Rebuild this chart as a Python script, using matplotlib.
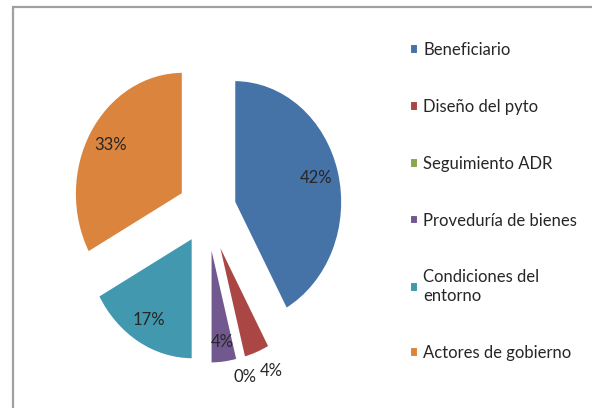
import numpy as np
import matplotlib.pyplot as plt
from matplotlib.patches import Rectangle

labels = ["Beneficiario", "Diseño del pyto", "Seguimiento ADR",
          "Proveduría de bienes", "Condiciones del\nentorno", "Actores de gobierno"]
values = [42, 4, 0, 4, 17, 33]
pct_labels = ["42%", "4%", "0%", "4%", "17%", "33%"]
colors = ["#4572A7", "#AA4643", "#89A54E", "#71588F", "#4198AF", "#DB843D"]
# where each % label sits: distance from the exploded apex (radius units)
# and a small angle nudge (degrees) for the crowded small slices
label_dist = [0.78, 1.19, 1.15, 0.83, 0.79, 0.78]
label_nudge = [0, 3, 0, 0, 0, 0]

plt.rcParams['font.family'] = ['Lato', 'DejaVu Sans']
txt_color = "#262626"

fig = plt.figure(figsize=(5.92, 4.08), dpi=100)
ax = fig.add_axes([0, 0, 1, 1])

wedges, _ = ax.pie(values, colors=colors, explode=[0.26] * len(values),
                   startangle=90, counterclock=False,
                   wedgeprops=dict(edgecolor="white", linewidth=1.5))

for w, lab, d, nd in zip(wedges, pct_labels, label_dist, label_nudge):
    mid = np.deg2rad((w.theta1 + w.theta2) / 2 + nd)
    cx, cy = w.center
    ax.text(cx + d * np.cos(mid), cy + d * np.sin(mid), lab,
            ha="center", va="center", fontsize=12, color=txt_color)

# pie is slightly taller than wide in the original
ax.set_aspect("auto")
ax.set_xlim(-1.917, 3.565)
ax.set_ylim(-1.623, 1.721)
ax.axis("off")

fig.patches.append(Rectangle((13 / 592, -0.1), 1.0, 1 - 7 / 408 + 0.1,
                             transform=fig.transFigure, fill=False,
                             edgecolor="#A0A0A0", linewidth=1.6))

fig.legend(wedges, labels, loc="upper left", bbox_to_anchor=(410 / 592, 1 - 42 / 408),
           frameon=False, fontsize=12, handlelength=0.5, handleheight=0.5,
           handletextpad=0.3, labelspacing=2.45, labelcolor=txt_color,
           borderaxespad=0, borderpad=0)

fig.savefig("out.png", dpi=100)
